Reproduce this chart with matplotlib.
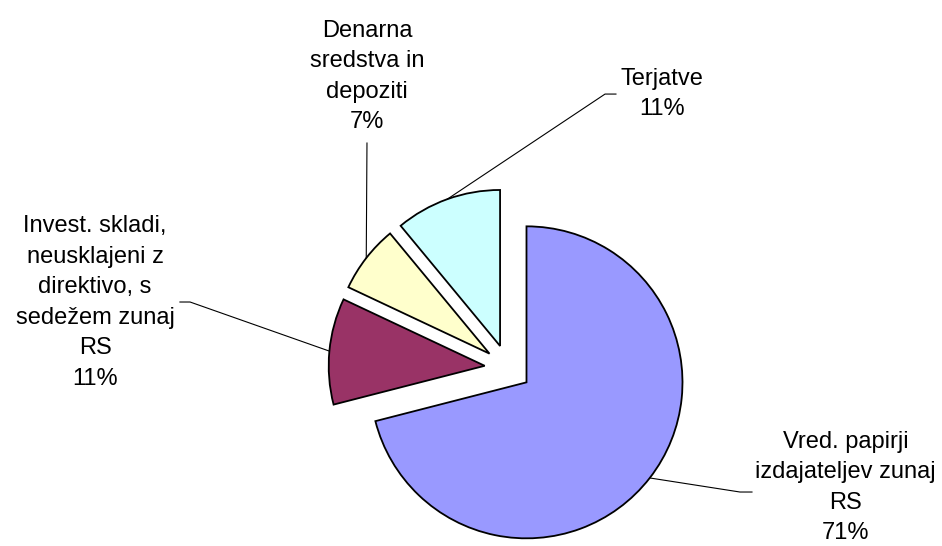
import numpy as np
import matplotlib.pyplot as plt

plt.rcParams['font.family'] = ['Liberation Sans', 'DejaVu Sans']

# data
labels = ['Vred. papirji\nizdajateljev zunaj\nRS',
          'Invest. skladi,\nneusklajeni z\ndirektivo, s\nsedežem zunaj\nRS',
          'Denarna\nsredstva in\ndepoziti',
          'Terjatve']
shares = [71, 11, 7, 11]
colors = ['#9999FF', '#993366', '#FFFFCC', '#CCFFFF']

# label text centres and leader elbow / end points (pie radius units)
text_pos = [(2.165, -0.765), (-2.647, 0.42), (-0.904, 1.87), (0.987, 1.755)]
elbows = [[(1.487, -0.795), (1.564, -0.795)],
          [(-2.038, 0.423), (-2.103, 0.423)],
          [(-0.904, 1.442)],
          [(0.622, 1.756), (0.692, 1.756)]]

explode = 0.15

fig = plt.figure(figsize=(9.42, 5.46), dpi=100)
ax = fig.add_axes([0, 0, 1, 1])

wedges, _ = ax.pie(shares, colors=colors, startangle=90, counterclock=False,
                   explode=[explode] * len(shares), radius=1,
                   wedgeprops=dict(edgecolor='black', linewidth=1.3))

for w, lab, val, tp, pts in zip(wedges, labels, shares, text_pos, elbows):
    mid = np.deg2rad((w.theta1 + w.theta2) / 2)
    r = 1 + explode
    start = (r * np.cos(mid), r * np.sin(mid))
    xs = [start[0]] + [p[0] for p in pts]
    ys = [start[1]] + [p[1] for p in pts]
    ax.plot(xs, ys, color='black', linewidth=0.8)
    ax.text(tp[0], tp[1], f'{lab}\n{val}%', ha='center', va='center',
            fontsize=17, linespacing=1.5)

scale = 156
ax.set_xlim(-508 / scale, (942 - 508) / scale)
ax.set_ylim(-(546 - 368) / scale, 368 / scale)
ax.set_aspect('auto')
ax.axis('off')

fig.savefig('out.png', dpi=100)
